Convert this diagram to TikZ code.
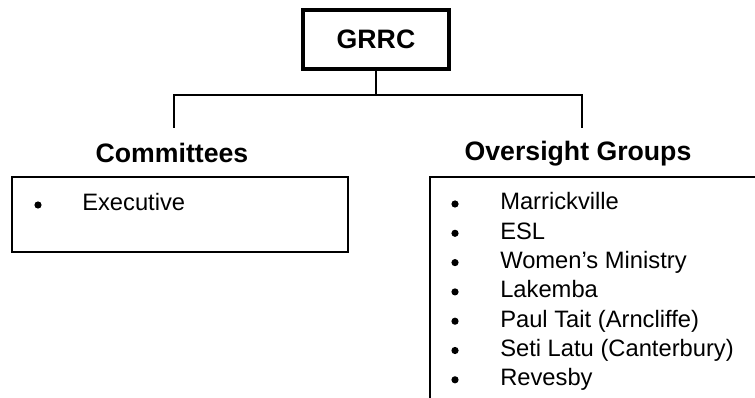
\documentclass[tikz,border=0pt]{standalone}
\usepackage{fontspec}
\setmainfont{Liberation Sans}
\begin{document}
\begin{tikzpicture}[x=0.75pt,y=-0.75pt]

        \clip (0,0) rectangle (755,398);

        \begin{scope}[every node/.style={inner sep=0pt, font=\fontsize{20}{24}\selectfont\bfseries}]
          \node[draw, line width=2.6pt, minimum width=109.5pt, minimum height=44.3pt] (grrc) at (376,39.5) {GRRC};
          \node[anchor=base] (com) at (172,163) {Committees};
          \node[anchor=base] (ovs) at (578,161) {Oversight Groups};
        \end{scope}

        \begin{scope}[every node/.style={draw, line width=1.7pt, inner sep=0pt}]
          \node[minimum width=252pt, minimum height=56.3pt] (combox) at (180,214.5) {};
          \node[minimum width=300pt, minimum height=200pt] (ovsbox) at (630,310) {};
        \end{scope}

        \begin{scope}[every node/.style={inner sep=0pt, anchor=base west, font=\fontsize{17.8}{22}\selectfont}]
          \node[circle, fill, minimum size=5.4pt, anchor=center] (cb1) at (38,205) {};
          \node (c1) at (82,211) {Executive};
          \foreach \txt [count=\i] in {Marrickville, ESL, Women’s Ministry, Lakemba,
                                       Paul Tait (Arncliffe), Seti Latu (Canterbury), Revesby} {
            \node[circle, fill, minimum size=5.4pt, anchor=center] (ob\i) at (455,{204+29.3*(\i-1)}) {};
            \node (o\i) at (500,{210+29.3*(\i-1)}) {\txt};
          }
        \end{scope}

        \coordinate (jl) at (174,95);
        \coordinate (jr) at (582,95);
        \coordinate (j)  at (grrc.south |- jl);
        \coordinate (tl) at (174,128);
        \coordinate (tr) at (582,128);

        \begin{scope}[line width=1.1pt]
          \draw (grrc.south) -- (j);
          \draw (tl) -- (jl) -- (jr) -- (tr);
        \end{scope}

      \end{tikzpicture}
\end{document}
